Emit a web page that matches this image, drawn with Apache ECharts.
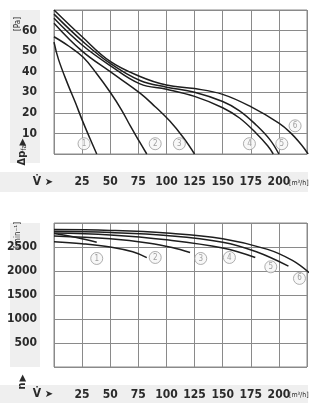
<!DOCTYPE html>
<html>
<head>
<meta charset="utf-8">
<script src="https://cdn.jsdelivr.net/npm/echarts@6/dist/echarts.min.js"></script>
<style>
  html, body { margin: 0; padding: 0; background: #fff; }
  #chart { width: 319px; height: 415px; }
</style>
</head>
<body>
<div id="chart"></div>
<script>
// x ticks (air flow, m3/h), shown 25..200
var flowTicks = [25, 50, 75, 100, 125, 150, 175, 200];
var pressureTicks = [10, 20, 30, 40, 50, 60];
var speedTicks = [500, 1000, 1500, 2000, 2500];
var curveNames = ['1', '2', '3', '4', '5', '6'];

// pressure curves [flow, pa]
var pres1 = [[0, 54.4], [4, 46], [12.5, 33.6], [19, 25], [25, 16.6], [32, 7.5], [38, 0]];
var pres2 = [[0, 57], [13, 52.5], [26, 47], [38, 39], [50, 30], [60, 21.5], [68, 13.5], [76, 6], [82.5, 0]];
var pres3 = [[0, 63.6], [25, 50], [50, 40], [76.5, 29.6], [90, 23], [103, 16], [115, 8], [125, 0]];
var pres4 = [[0, 66], [25, 53], [50, 43], [76.5, 34.1], [100, 31.5], [125, 28], [150, 22.5], [165, 17.5], [180, 10], [190, 4], [195, 0]];
var pres5 = [[0, 68], [25, 55], [50, 44], [76.5, 35.7], [100, 32.5], [125, 30], [150, 25.5], [165, 21], [180, 14], [192, 7], [200, 0]];
var pres6 = [[0, 70], [25, 57], [50, 45], [76.5, 37.7], [100, 33.5], [125, 31.8], [150, 29], [175, 23], [200, 15], [210, 10.5], [220, 4.5], [226, 0]];

// speed curves [flow, rpm]
var rpm1 = [[0, 2780], [20, 2700], [38, 2600]];
var rpm2 = [[0, 2610], [25, 2570], [50, 2502], [70, 2400], [82.5, 2280]];
var rpm3 = [[0, 2730], [50, 2670], [85, 2580], [105, 2490], [121, 2386]];
var rpm4 = [[0, 2790], [50, 2750], [100, 2650], [150, 2480], [179, 2282]];
var rpm5 = [[0, 2826], [50, 2800], [100, 2740], [150, 2600], [180, 2400], [208.5, 2100]];
var rpm6 = [[0, 2863], [50, 2845], [100, 2790], [150, 2670], [190, 2450], [212, 2220], [227, 1963]];

// circled curve labels
var presMarkX = [26.7, 90, 111.5, 173.8, 202.6, 214.4];
var presMarkY = [5, 5, 5, 5, 5, 13.7];
var rpmMarkX = [38, 90, 130.5, 156, 192.8, 218.3];
var rpmMarkY = [2261, 2282, 2261, 2282, 2087, 1846];

var chart = echarts.init(document.getElementById('chart'), null, { renderer: 'canvas' });

var FONT = '"Liberation Sans Narrow", "DejaVu Sans Condensed", Arial, sans-serif';
var gridCol = '#8a8a8a';

function xAxisFor(idx) {
  return {
    type: 'value', gridIndex: idx, min: 0, max: 225, interval: 25,
    axisLine: { show: false }, axisTick: { show: false },
    splitLine: { show: true, lineStyle: { color: gridCol, width: 1 } },
    axisLabel: {
      margin: 22, color: '#2a2a2a', fontSize: 12, fontWeight: 'bold', fontFamily: FONT,
      formatter: function (v) { return flowTicks.indexOf(v) >= 0 ? String(v) : ''; }
    }
  };
}

function yAxisFor(idx, max, step, ticks) {
  return {
    type: 'value', gridIndex: idx, min: 0, max: max, interval: step,
    axisLine: { show: false }, axisTick: { show: false },
    splitLine: { show: true, lineStyle: { color: gridCol, width: 1 } },
    axisLabel: {
      margin: 17, color: '#2a2a2a', fontSize: 12, fontWeight: 'bold', fontFamily: FONT,
      formatter: function (v) { return ticks.indexOf(v) >= 0 ? String(v) : ''; }
    }
  };
}

function curve(data, xi) {
  return {
    type: 'line', xAxisIndex: xi, yAxisIndex: xi, data: data, smooth: 0.4,
    showSymbol: false, silent: true,
    lineStyle: { color: '#1e1e1e', width: 1.5 }
  };
}

function marks(xs, ys, xi) {
  return {
    type: 'scatter', xAxisIndex: xi, yAxisIndex: xi, symbol: 'circle', symbolSize: 12,
    data: xs.map(function (x, i) { return { value: [x, ys[i]], name: curveNames[i] }; }),
    itemStyle: { color: '#f6f6f6', borderColor: '#9a9a9a', borderWidth: 1 },
    label: { show: true, position: 'inside', formatter: '{b}', color: '#8a8a8a', fontSize: 8, fontFamily: FONT },
    z: 5
  };
}

var txt = { fill: '#2a2a2a', fontFamily: FONT, align: 'center', verticalAlign: 'middle' };
function style(extra) { return Object.assign({}, txt, extra); }

var option = {
  animation: false,
  backgroundColor: '#fff',
  grid: [
    { left: 54, top: 10, right: 12, height: 144, show: true, borderColor: gridCol, borderWidth: 1 },
    { left: 54, top: 223, right: 12, height: 144, show: true, borderColor: gridCol, borderWidth: 1 }
  ],
  xAxis: [xAxisFor(0), xAxisFor(1)],
  yAxis: [yAxisFor(0, 70, 10, pressureTicks), yAxisFor(1, 3000, 500, speedTicks)],
  graphic: [
    // light grey label panels
    { type: 'rect', z: -10, shape: { x: 10, y: 10, width: 30, height: 153 }, style: { fill: '#efefef' } },
    { type: 'rect', z: -10, shape: { x: 0, y: 172, width: 308, height: 20 }, style: { fill: '#efefef' } },
    { type: 'rect', z: -10, shape: { x: 10, y: 223, width: 30, height: 144 }, style: { fill: '#efefef' } },
    { type: 'rect', z: -10, shape: { x: 0, y: 385, width: 308, height: 18 }, style: { fill: '#efefef' } },
    // axis names
    { type: 'text', x: 18, y: 24, rotation: Math.PI / 2, style: style({ text: '[Pa]', fontSize: 8 }) },
    { type: 'text', x: 22, y: 155, rotation: Math.PI / 2, style: style({
        text: '{a|Δp}{b|fa}',
        rich: { a: { fontSize: 11, fontWeight: 'bold', fontFamily: FONT, fill: '#2a2a2a' }, b: { fontSize: 7, fontFamily: FONT, fill: '#2a2a2a', padding: [5, 0, 0, 0] } }
      }) },
    { type: 'text', x: 23, y: 142, rotation: Math.PI / 2, style: style({ text: '▶', fontSize: 9, fontFamily: 'DejaVu Sans' }) },
    { type: 'text', x: 18, y: 235, rotation: Math.PI / 2, style: style({ text: '[min⁻¹]', fontSize: 8 }) },
    { type: 'text', x: 22, y: 386, rotation: Math.PI / 2, style: style({ text: 'n', fontSize: 11, fontWeight: 'bold' }) },
    { type: 'text', x: 23, y: 378, rotation: Math.PI / 2, style: style({ text: '▶', fontSize: 9, fontFamily: 'DejaVu Sans' }) },
    { type: 'text', x: 37, y: 182, style: style({ text: 'V̇', fontSize: 12, fontWeight: 'bold' }) },
    { type: 'text', x: 49, y: 182, style: style({ text: '➤', fontSize: 10, fontFamily: 'DejaVu Sans' }) },
    { type: 'text', x: 37, y: 394, style: style({ text: 'V̇', fontSize: 12, fontWeight: 'bold' }) },
    { type: 'text', x: 49, y: 394, style: style({ text: '➤', fontSize: 10, fontFamily: 'DejaVu Sans' }) },
    { type: 'text', x: 289, y: 183, style: style({ text: '[m³/h]', fontSize: 7, align: 'left' }) },
    { type: 'text', x: 289, y: 395, style: style({ text: '[m³/h]', fontSize: 7, align: 'left' }) }
  ],
  series: [
    curve(pres1, 0), curve(pres2, 0), curve(pres3, 0), curve(pres4, 0), curve(pres5, 0), curve(pres6, 0),
    curve(rpm1, 1), curve(rpm2, 1), curve(rpm3, 1), curve(rpm4, 1), curve(rpm5, 1), curve(rpm6, 1),
    marks(presMarkX, presMarkY, 0),
    marks(rpmMarkX, rpmMarkY, 1)
  ]
};

chart.setOption(option);
</script>
</body>
</html>
